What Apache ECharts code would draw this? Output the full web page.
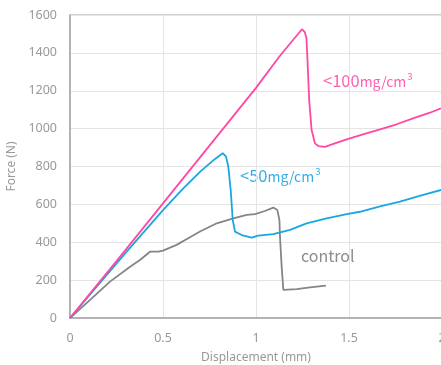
<!DOCTYPE html>
<html>
<head>
<meta charset="utf-8">
<script src="https://cdn.jsdelivr.net/npm/echarts@6/dist/echarts.min.js"></script>
<style>html,body{margin:0;padding:0;background:#fff;}#c{width:441px;height:365px;}</style>
</head>
<body>
<div id="c"></div>
<script>
// Force vs displacement readings [displacement (mm), force (N)]
var controlData = [[0,0],[0.108,96],[0.215,192],[0.323,271],[0.376,306],[0.43,350],[0.475,350],[0.5,356],[0.573,386],[0.645,426],[0.699,457],[0.789,500],[0.878,526],[0.95,544],[0.995,549],[1.048,565],[1.093,583],[1.115,570],[1.126,517],[1.129,429],[1.138,271],[1.147,148],[1.219,153],[1.29,162],[1.376,171]];
var low50Data = [[0,0],[0.1,115],[0.3,345],[0.5,570],[0.6,675],[0.7,773],[0.78,840],[0.821,870],[0.839,852],[0.851,799],[0.864,676],[0.875,517],[0.887,456],[0.923,438],[0.977,424],[1.012,435],[1.093,443],[1.183,465],[1.272,500],[1.38,526],[1.488,549],[1.559,561],[1.667,590],[1.774,615],[1.88,645],[1.995,676]];
var low100Data = [[0,0],[0.25,300],[0.5,605],[0.75,910],[1.0,1215],[1.129,1385],[1.247,1525],[1.262,1510],[1.271,1480],[1.276,1380],[1.286,1150],[1.299,993],[1.317,922],[1.335,908],[1.371,904],[1.416,919],[1.488,943],[1.575,970],[1.667,996],[1.756,1023],[1.844,1054],[1.935,1084],[1.995,1107]];
var seriesNames = ['control', '<50mg/cm³', '<100mg/cm³'];
var xTicks = [0, 0.5, 1, 1.5, 2];
var yTicks = [0, 200, 400, 600, 800, 1000, 1200, 1400, 1600];

var chart = echarts.init(document.getElementById('c'), null, {renderer: 'canvas'});
var tickFont = {color: '#999999', fontSize: 12.5, fontFamily: 'Noto Sans'};
function plain(v) { return String(v); }
function supRich(color) {
  return {
    a: {fontSize: 16.5, fill: color, fontFamily: 'Noto Sans CJK JP', verticalAlign: 'bottom'},
    b: {fontSize: 14, fill: color, fontFamily: 'Noto Sans CJK JP', verticalAlign: 'bottom'},
    c: {fontSize: 9.5, fill: color, fontFamily: 'Noto Sans CJK JP', verticalAlign: 'top', padding: [0, 0, 2, 1]}
  };
}
chart.setOption({
  animation: false,
  backgroundColor: '#ffffff',
  grid: {left: 70, top: 15, right: -1, bottom: 47, outerBoundsMode: 'none', containLabel: false,
         show: true, borderColor: '#a6a6a6', borderWidth: 1},
  xAxis: {
    type: 'value', min: xTicks[0], max: xTicks[xTicks.length - 1], interval: 0.5,
    name: 'Displacement (mm)', nameLocation: 'middle', nameGap: 34,
    nameTextStyle: {color: '#999999', fontSize: 12, fontFamily: 'Noto Sans'},
    axisLine: {show: true, lineStyle: {color: '#a6a6a6', width: 1.5}},
    axisTick: {show: false},
    axisLabel: Object.assign({margin: 14, showMaxLabel: true, formatter: plain}, tickFont),
    splitLine: {show: true, lineStyle: {color: '#e4e4e4', width: 1}}
  },
  yAxis: {
    type: 'value', min: yTicks[0], max: yTicks[yTicks.length - 1], interval: 200,
    name: 'Force (N)', nameLocation: 'middle', nameGap: 47, nameRotate: 90,
    nameTextStyle: {color: '#999999', fontSize: 12, fontFamily: 'Noto Sans'},
    axisLine: {show: true, lineStyle: {color: '#a6a6a6', width: 1.5}},
    axisTick: {show: false},
    axisLabel: Object.assign({margin: 13, formatter: plain}, tickFont),
    splitLine: {show: true, lineStyle: {color: '#e4e4e4', width: 1}}
  },
  series: [
    {name: seriesNames[0], type: 'line', data: controlData, symbol: 'none', smooth: false,
     lineStyle: {color: '#858585', width: 1.8}},
    {name: seriesNames[1], type: 'line', data: low50Data, symbol: 'none', smooth: false,
     lineStyle: {color: '#1aa6e0', width: 1.8}},
    {name: seriesNames[2], type: 'line', data: low100Data, symbol: 'none', smooth: false,
     lineStyle: {color: '#ff47a3', width: 1.8}}
  ],
  graphic: [
    {type: 'text', left: 323, top: 72, style: {text: '{a|<100}{b|mg/cm}{c|3}', rich: supRich('#ff5fb0')}},
    {type: 'text', left: 240, top: 167, style: {text: '{a|<50}{b|mg/cm}{c|3}', rich: supRich('#33ade6')}},
    {type: 'text', left: 301, top: 248, style: {
      text: 'control', fontSize: 16, fill: '#8c8c8c', fontFamily: 'Noto Sans CJK JP'}}
  ]
});
</script>
</body>
</html>
